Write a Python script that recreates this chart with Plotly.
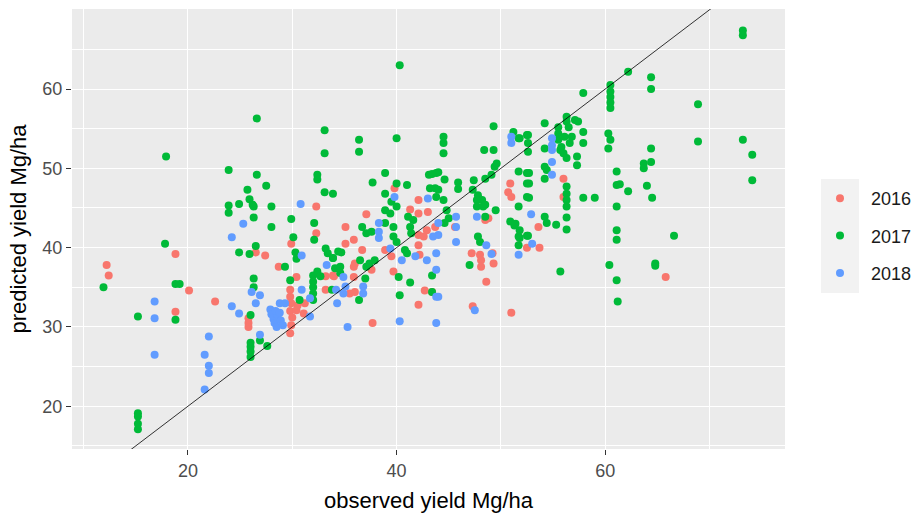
import plotly.graph_objects as go

# ---- data (observed, predicted) ----
obs_2016 = [12.2, 12.4, 18.8, 18.8, 20.1, 22.6, 25.8, 25.8, 25.8, 26.5, 27.4, 28.7, 29.9, 30.4, 29.8, 29.8,
            29.9, 29.8, 30.0, 29.9, 29.8, 30.5, 31.2, 31.1, 30.4, 32.3, 32.3, 33.2, 34.0, 33.2, 33.9, 35.9,
            35.5, 36.0, 36.0, 35.9, 37.6, 35.1, 35.1, 35.9, 37.1, 36.7, 38.9, 39.8, 42.1, 41.3, 42.1, 43.0,
            42.1, 42.1, 42.9, 42.6, 42.2, 39.5, 39.7, 42.7, 43.4, 42.1, 37.7, 43.7, 45.6, 47.2, 48.0, 48.1,
            49.2, 49.3, 48.1, 48.6, 47.3, 51.0, 48.5, 48.8, 50.9, 50.7, 51.0, 56.0, 56.0, 53.6, 52.5, 53.7,
            65.8]
pred_2016 = [37.8, 36.5, 39.2, 31.9, 34.6, 33.2, 31.1, 30.5, 30.0, 39.4, 39.0, 37.6, 40.5, 36.3, 34.7, 33.8,
             33.0, 32.0, 31.2, 30.2, 29.2, 32.7, 33.0, 31.7, 32.1, 45.2, 41.8, 36.4, 36.4, 34.7, 36.5, 36.3,
             34.2, 34.4, 38.0, 37.6, 37.2, 42.6, 40.5, 41.0, 44.2, 39.7, 39.7, 47.5, 46.0, 44.8, 44.3, 44.5,
             41.6, 40.3, 42.2, 41.4, 39.1, 38.9, 37.0, 34.6, 34.4, 32.8, 30.5, 42.6, 42.6, 39.3, 39.1, 38.4,
             39.3, 38.0, 37.6, 35.7, 32.6, 31.8, 43.5, 43.7, 48.1, 47.0, 46.4, 48.7, 46.4, 42.6, 40.0, 40.0,
             36.3]

obs_2017 = [11.9, 15.2, 15.2, 15.2, 15.2, 15.2, 17.8, 17.9, 18.8, 19.2, 18.8,
            23.9, 26.6, 27.5, 25.7, 25.9, 26.2, 26.3, 23.9, 23.9, 24.9, 28.0, 32.4, 32.4, 26.3, 28.0, 29.9,
            32.1, 32.1, 30.1, 26.5, 24.9, 25.9, 30.3, 30.4, 29.3, 29.8, 26.3, 26.3, 26.0, 26.0, 26.0, 26.0,
            26.0, 26.9, 27.6, 32.0, 32.0, 32.0, 32.0, 32.0, 30.7,
            26.6, 33.1, 33.1, 33.1, 33.9, 33.2, 33.4, 33.9, 34.4, 32.4, 32.7, 34.1, 33.8,
            36.4, 36.4, 40.0, 38.9, 37.7, 40.0, 41.0, 43.1, 43.8, 43.2, 44.0, 38.9, 39.5, 40.0, 38.9, 39.4,
            41.1, 41.6, 36.7, 37.1, 37.6, 38.9, 39.7, 34.7, 33.9, 39.7, 40.0, 40.8, 41.3, 41.4, 41.0, 40.2,
            41.3, 43.4, 40.3, 36.4, 34.6, 34.6, 36.5, 37.1, 37.4, 37.9, 37.0, 40.3,
            49.3, 44.5, 44.5, 44.5, 48.4, 49.3, 51.2, 51.7, 52.5, 44.0, 43.4, 44.6, 45.9, 45.9, 43.7, 47.4,
            48.5, 49.1, 49.4, 49.6, 47.3, 47.8, 48.2, 48.5, 51.7, 52.5, 52.5, 52.5, 51.7, 49.5, 50.9, 51.3,
            51.8, 51.4, 51.7, 51.7, 52.5, 47.8, 48.0, 47.0, 43.4, 44.5, 43.8, 44.8, 45.0, 44.6, 47.7, 47.7,
            48.3, 48.5,
            57.9, 60.5, 60.5, 60.5, 60.5, 60.5, 54.2, 55.5, 56.3, 56.3, 56.5, 57.1, 57.4, 55.5, 55.5, 55.8,
            56.0, 56.3, 56.6, 56.8, 56.1, 55.7, 57.9, 57.3, 57.3, 60.3, 60.5, 60.3, 52.6, 52.6, 52.6, 51.8,
            54.2, 54.2, 54.4, 54.2, 52.7, 52.7, 56.3, 56.3, 56.3, 56.3, 57.9, 59.0, 52.7, 61.1, 61.1, 61.1,
            54.2, 54.4, 55.3, 56.3, 56.3, 52.6, 51.8, 55.7, 61.1, 61.1, 60.4, 61.1, 61.2,
            73.2, 73.2, 62.2, 64.4, 64.4, 68.9, 57.9, 64.4, 64.4, 63.7, 63.7, 68.9, 73.2, 74.1, 74.1, 61.4,
            62.2, 64.0, 64.5, 66.6, 64.8, 64.8]
pred_2017 = [35.0, 31.3, 19.1, 18.7, 17.8, 17.1, 40.5, 51.5, 35.4, 35.4, 30.9,
             49.8, 49.2, 47.8, 47.3, 46.1, 45.4, 45.2, 45.3, 44.4, 45.5, 45.2, 49.2, 48.6, 43.8, 42.6, 43.6,
             43.1, 41.0, 41.3, 40.2, 39.4, 39.2, 39.4, 38.6, 37.6, 35.9, 36.1, 35.0, 31.5, 28.0, 26.9, 26.2,
             27.5, 28.3, 27.6, 36.5, 35.7, 35.0, 34.2, 33.4, 33.4,
             56.3, 54.8, 51.9, 47.0, 46.8, 39.9, 39.3, 38.7, 39.5, 37.0, 36.4, 37.4, 34.7,
             53.6, 52.1, 53.8, 49.4, 48.2, 48.1, 47.9, 49.2, 49.4, 47.5, 47.3, 46.8, 45.8, 45.2, 44.7, 44.3,
             43.9, 43.5, 42.6, 41.8, 42.0, 43.1, 42.6, 39.4, 38.7, 41.4, 40.7, 39.7, 42.6, 41.8, 39.3, 36.3,
             35.6, 36.5, 34.0, 33.4, 37.6, 36.8, 38.4, 37.6, 38.0, 38.4, 36.1, 63.0,
             55.3, 54.0, 53.2, 51.9, 52.3, 52.3, 54.6, 53.8, 54.2, 49.5, 49.3, 48.6, 48.2, 47.4, 47.5, 48.5,
             48.7, 49.2, 50.2, 50.6, 47.3, 46.6, 46.0, 45.4, 49.6, 49.4, 48.1, 46.4, 45.2, 44.7, 43.3, 42.8,
             42.2, 43.0, 41.4, 40.3, 41.5, 41.4, 40.7, 37.8, 34.4, 46.0, 46.4, 44.7, 43.7, 43.1, 46.0, 45.2,
             45.2, 43.9,
             59.5, 60.5, 59.7, 59.0, 58.3, 57.6, 55.7, 55.2, 56.5, 55.9, 55.2, 56.1, 55.9, 54.4, 53.6, 52.7,
             51.9, 51.3, 53.2, 54.0, 54.0, 52.3, 54.6, 51.5, 50.4, 54.4, 53.6, 52.5, 54.2, 53.2, 52.1, 53.8,
             52.5, 50.2, 49.8, 48.7, 49.4, 48.1, 47.7, 46.8, 46.0, 45.2, 46.3, 46.3, 46.3, 49.6, 47.9, 45.2,
             43.9, 43.1, 42.9, 43.8, 42.3, 41.5, 41.2, 37.0, 42.2, 41.0, 37.8, 35.9, 33.2,
             67.4, 66.8, 62.2, 61.5, 60.0, 58.1, 53.2, 52.5, 50.8, 50.6, 50.0, 53.4, 53.6, 51.7, 48.5, 48.0,
             47.1, 47.8, 46.3, 41.5, 38.0, 37.7]

obs_2018 = [16.8, 16.8, 16.8, 21.6, 21.6, 22.0, 22.0, 22.0, 24.2, 25.3, 24.2, 24.9, 26.1, 26.9, 26.5, 26.9,
            30.8, 30.9, 28.8, 29.3,
            27.9, 28.0, 28.2, 28.3, 28.5, 28.6, 28.9, 29.1, 28.4, 28.8,
            31.7, 31.7, 30.9, 33.3, 34.2, 34.9, 35.1, 34.9, 34.3, 36.8, 36.8, 35.3, 38.3, 38.3, 38.3, 39.8,
            43.0, 39.4, 41.8, 42.9, 43.8, 40.5, 43.8, 43.8, 40.3, 43.8, 51.0, 51.0, 52.9, 53.0, 51.7, 48.6,
            49.1, 47.5, 45.7, 45.7, 45.7, 44.0, 44.0, 43.5, 47.7, 44.0, 54.9, 54.9, 54.9, 54.9, 54.9]
pred_2018 = [33.2, 31.1, 26.5, 22.1, 26.5, 28.8, 25.1, 24.2, 41.3, 43.0, 32.6, 31.7, 34.4, 34.0, 33.0, 29.0,
             45.5, 39.0, 33.0, 33.0,
             32.2, 31.6, 31.0, 30.5, 30.0, 31.4, 30.8, 30.2, 32.0, 31.8,
             33.6, 31.3, 34.7, 37.8, 34.7, 36.3, 35.1, 34.2, 33.0, 35.1, 34.2, 30.0, 43.1, 42.0, 41.2, 46.4,
             46.2, 39.9, 38.9, 38.4, 39.3, 38.4, 37.2, 33.8, 30.7, 30.5, 54.0, 53.2, 44.2, 40.5, 39.1, 40.3,
             39.2, 32.1, 43.9, 42.6, 40.7, 43.1, 41.6, 41.4, 43.9, 33.8, 53.8, 52.9, 52.3, 50.8, 49.2]

years = ["2016", "2017", "2018"]
colors = ["#F8766D", "#00BA38", "#619CFF"]
series = [(obs_2016, pred_2016), (obs_2017, pred_2017), (obs_2018, pred_2018)]

ref_line = [0, 100]  # identity line y = x

x_range = [8.88, 77.24]
y_range = [14.6, 70.1]

FONT = "Liberation Sans, Arial, sans-serif"

fig = go.Figure()
for yr, col, (xo, yp) in zip(years, colors, series):
    fig.add_trace(go.Scatter(x=xo, y=yp, mode="markers", name=yr, legendgroup=yr,
                             marker=dict(color=col, size=8, line=dict(width=0))))

fig.add_trace(go.Scatter(x=ref_line, y=ref_line, mode="lines", showlegend=False,
                         line=dict(color="black", width=0.8), hoverinfo="skip"))

W, H = 920, 513
L, R, T, B = 72, 8, 9, 64
PANEL_RIGHT = 785
pw, ph = W - L - R, H - T - B

def px2x(p):
    return (p - L) / pw

def py2y(p):
    return (H - B - p) / ph

fig.add_shape(type="rect", xref="paper", yref="paper",
              x0=px2x(821), x1=px2x(859), y0=py2y(293), y1=py2y(179),
              fillcolor="#F2F2F2", line=dict(width=0), layer="below")

fig.update_layout(
    width=W, height=H,
    margin=dict(l=L, r=R, t=T, b=B, autoexpand=False),
    paper_bgcolor="white",
    plot_bgcolor="#EBEBEB",
    font=dict(family=FONT, color="#4D4D4D", size=18),
    showlegend=True,
    legend=dict(x=px2x(809), xanchor="left", y=py2y(180), yanchor="top",
                bgcolor="rgba(0,0,0,0)", font=dict(size=18, color="#1A1A1A"),
                tracegroupgap=11, itemwidth=52),
    xaxis=dict(domain=[0, px2x(PANEL_RIGHT)], range=x_range, tickvals=[20, 40, 60], ticktext=["20", "40", "60"],
               automargin=False,
               showgrid=True, gridcolor="white", gridwidth=1.1, zeroline=False,
               ticks="outside", ticklen=5, tickwidth=1, tickcolor="#333333",
               tickfont=dict(size=18, color="#4D4D4D"),
               minor=dict(tickvals=[10, 30, 50, 70], showgrid=True, gridcolor="white", gridwidth=0.55, ticks=""),
               title=dict(text="observed yield Mg/ha", font=dict(size=22, color="black"), standoff=14),
               showline=False),
    yaxis=dict(range=y_range, tickvals=[20, 30, 40, 50, 60], ticktext=["20", "30", "40", "50", "60"],
               automargin=False,
               showgrid=True, gridcolor="white", gridwidth=1.1, zeroline=False,
               ticks="outside", ticklen=5, tickwidth=1, tickcolor="#333333",
               tickfont=dict(size=18, color="#4D4D4D"),
               minor=dict(tickvals=[15, 25, 35, 45, 55, 65], showgrid=True, gridcolor="white", gridwidth=0.55, ticks=""),
               title=dict(text="predicted yield Mg/ha", font=dict(size=22, color="black"), standoff=9),
               showline=False),
)

fig.write_html("out.html")
